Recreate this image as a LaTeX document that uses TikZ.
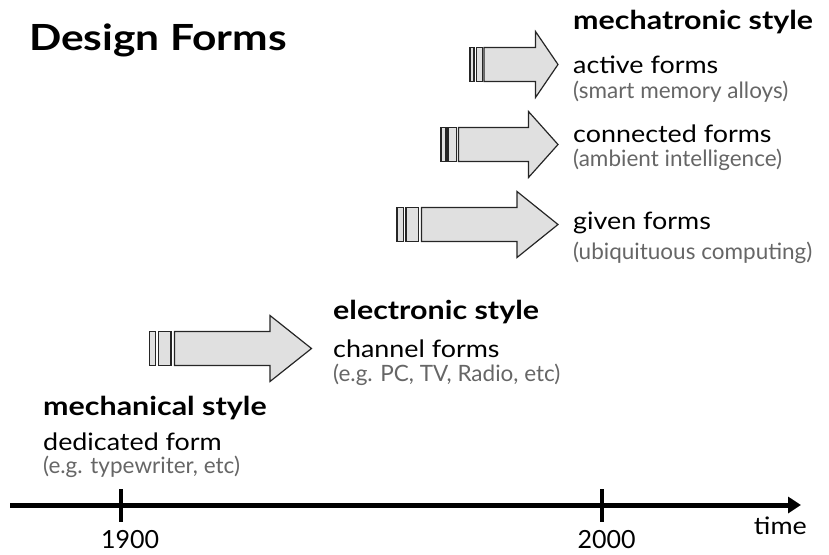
\documentclass[tikz,border=0pt]{standalone}
\usepackage{fontspec}
\setmainfont{Lato}
\newfontfamily\regfont[FakeStretch=1.12]{Lato}
\newfontfamily\headfont[FakeStretch=1.17]{Lato}
\newfontfamily\titlefont[FakeStretch=1.18]{Lato}
\usetikzlibrary{arrows.meta}
\begin{document}
\begin{tikzpicture}[x=1pt,y=-1pt,
  arrowshape/.style={draw=black!85,fill=black!12,line width=1.2pt,line join=miter},
  title/.style={anchor=base west,inner sep=0pt,font=\titlefont\fontsize{36}{40}\selectfont\bfseries},
  stylehead/.style={anchor=base west,inner sep=0pt,font=\headfont\fontsize{26}{30}\selectfont\bfseries},
  formtext/.style={anchor=base west,inner sep=0pt,font=\regfont\fontsize{24}{28}\selectfont},
  subtext/.style={anchor=base west,inner sep=0pt,text=black!60,font=\fontsize{22.5}{26}\selectfont},
  yeartext/.style={anchor=base,inner sep=0pt,font=\fontsize{25}{28}\selectfont}]
\useasboundingbox (0,0) rectangle (829,554);
\newcommand{\stripedarrow}[8]{%
  \draw[arrowshape] (#2,#1-17) rectangle (#3,#1+17);
  \draw[arrowshape] (#4,#1-17) rectangle (#5,#1+17);
  \draw[arrowshape] (#6,#1-17) -- (#7,#1-17) -- (#7,#1-33) -- (#8,#1) -- (#7,#1+33) -- (#7,#1+17) -- (#6,#1+17) -- cycle;}
% arrows
\stripedarrow{64.5}{470}{474}{476.5}{482.5}{484}{535.5}{558}
\stripedarrow{144.5}{441}{446}{448}{456.5}{458.5}{528.5}{558}
\stripedarrow{224.5}{397}{403.5}{406}{418.5}{421.5}{517}{558}
\stripedarrow{348.5}{149.5}{155.5}{158.5}{171}{174.5}{270}{311.5}
% texts
\node[title] (t) at (29,50) {Design Forms};
\node[stylehead] (mech) at (573,29.5) {mechatronic style};
\node[formtext] (act) at (573,73.5) {active forms};
\node[subtext] (actsub) at (573,98) {(smart memory alloys)};
\node[formtext] (con) at (573,142) {connected forms};
\node[subtext] (consub) at (573,166.5) {(ambient intelligence)};
\node[formtext] (giv) at (573,229) {given forms};
\node[subtext] (givsub) at (573,259) {(ubiquituous computing)};
\node[stylehead] (elec) at (333,319.5) {electronic style};
\node[formtext] (chan) at (333,357) {channel forms};
\node[subtext] (chansub) at (333,381) {(e.g. PC, TV, Radio, etc)};
\node[stylehead] (mechl) at (43,415.5) {mechanical style};
\node[formtext] (ded) at (43,450) {dedicated form};
\node[subtext] (dedsub) at (43,473.5) {(e.g. typewriter, etc)};
% time axis
\coordinate (a0) at (10,505);
\coordinate (a1) at (801,505);
\draw[line width=5pt,-{Triangle[length=13pt,width=16pt]}] (a0) -- (a1);
\coordinate (t1a) at (120.5,489); \coordinate (t1b) at (120.5,522);
\coordinate (t2a) at (601.5,489); \coordinate (t2b) at (601.5,522);
\draw[line width=4pt] (t1a) -- (t1b);
\draw[line width=4pt] (t2a) -- (t2b);
\node[yeartext] (y1900) at (130,548) {1900};
\node[yeartext] (y2000) at (606.5,548) {2000};
\node[anchor=base east,inner sep=0pt,font=\regfont\fontsize{24}{28}\selectfont] (time) at (807,534) {time};
\end{tikzpicture}
\end{document}
